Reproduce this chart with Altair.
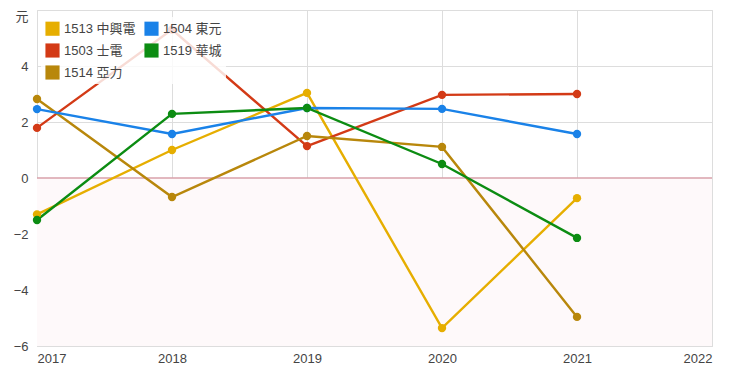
import altair as alt
import pandas as pd

years = [2017, 2018, 2019, 2020, 2021]
series_names = ["1513 中興電", "1503 士電", "1514 亞力", "1504 東元", "1519 華城"]
series_colors = ["#e6ae00", "#d33a16", "#b8870b", "#1a82e8", "#0c8c12"]
v_1513 = [-1.3, 1.0, 3.04, -5.36, -0.72]
v_1503 = [1.79, 5.3, 1.14, 2.97, 3.0]
v_1514 = [2.82, -0.68, 1.5, 1.11, -4.96]
v_1504 = [2.46, 1.57, 2.5, 2.47, 1.57]
v_1519 = [-1.5, 2.29, 2.5, 0.5, -2.14]
y_ticks = [-6, -4, -2, 0, 2, 4, 6]
x_ticks = [2017, 2018, 2019, 2020, 2021, 2022]

rows = []
for name, vals in zip(series_names, [v_1513, v_1503, v_1514, v_1504, v_1519]):
    for yr, v in zip(years, vals):
        rows.append({"year": yr, "value": v, "series": name})
df = pd.DataFrame(rows)

band = pd.DataFrame({"x": [2017], "x2": [2022], "y": [0], "y2": [-6]})
zero = pd.DataFrame({"y": [0]})

FONT = "Liberation Sans, Noto Sans CJK TC, sans-serif"

xscale = alt.Scale(domain=[2017, 2022], nice=False)
yscale = alt.Scale(domain=[-6, 6], nice=False)

xaxis = alt.Axis(values=x_ticks, format="d", title=None, grid=True, gridColor="#dddddd",
                 ticks=False, domain=True, domainColor="#dddddd", labelColor="#444444",
                 labelFontSize=13, labelPadding=6, labelFont=FONT)
yaxis = alt.Axis(values=y_ticks, title=None, grid=True, gridColor="#dddddd", ticks=False,
                 domain=False, labelColor="#444444", labelFontSize=13, labelPadding=9,
                 labelFont=FONT,
                 labelBaseline={"condition": {"test": "datum.value == 6", "value": "top"},
                                "value": "middle"},
                 labelExpr="datum.value == 6 ? '元' : datum.label")

bg = alt.Chart(band).mark_rect(color="#fef9fa").encode(
    x=alt.X("x:Q", scale=xscale, axis=xaxis),
    x2="x2:Q",
    y=alt.Y("y:Q", scale=yscale, axis=yaxis),
    y2="y2:Q",
)

rule = alt.Chart(zero).mark_rule(color="#d9a0aa", strokeWidth=1.5).encode(
    y=alt.Y("y:Q", scale=yscale)
)

color = alt.Color("series:N", scale=alt.Scale(domain=series_names, range=series_colors),
                  legend=alt.Legend(title=None, orient="none", legendX=4, legendY=7,
                                    columns=2, symbolType="square", symbolSize=200,
                                    symbolStrokeWidth=0, symbolOpacity=1,
                                    labelFontSize=13, labelColor="#444444", labelFont=FONT,
                                    rowPadding=7, columnPadding=8, padding=4,
                                    fillColor="rgba(255,255,255,0.82)", labelLimit=200))

lines = alt.Chart(df).mark_line(strokeWidth=2.4, point=alt.OverlayMarkDef(size=70, filled=True, opacity=1)).encode(
    x=alt.X("year:Q", scale=xscale),
    y=alt.Y("value:Q", scale=yscale),
    color=color,
    order=alt.Order("year:Q"),
)

chart = alt.layer(bg, rule, lines).properties(
    width=675, height=336,
    autosize=alt.AutoSizeParams(type="none"),
    padding={"left": 29, "top": 2, "right": 20, "bottom": 20},
).configure_view(stroke=None).configure(font=FONT)

chart.save("out.html", embed_options={"renderer": "svg", "actions": False})
